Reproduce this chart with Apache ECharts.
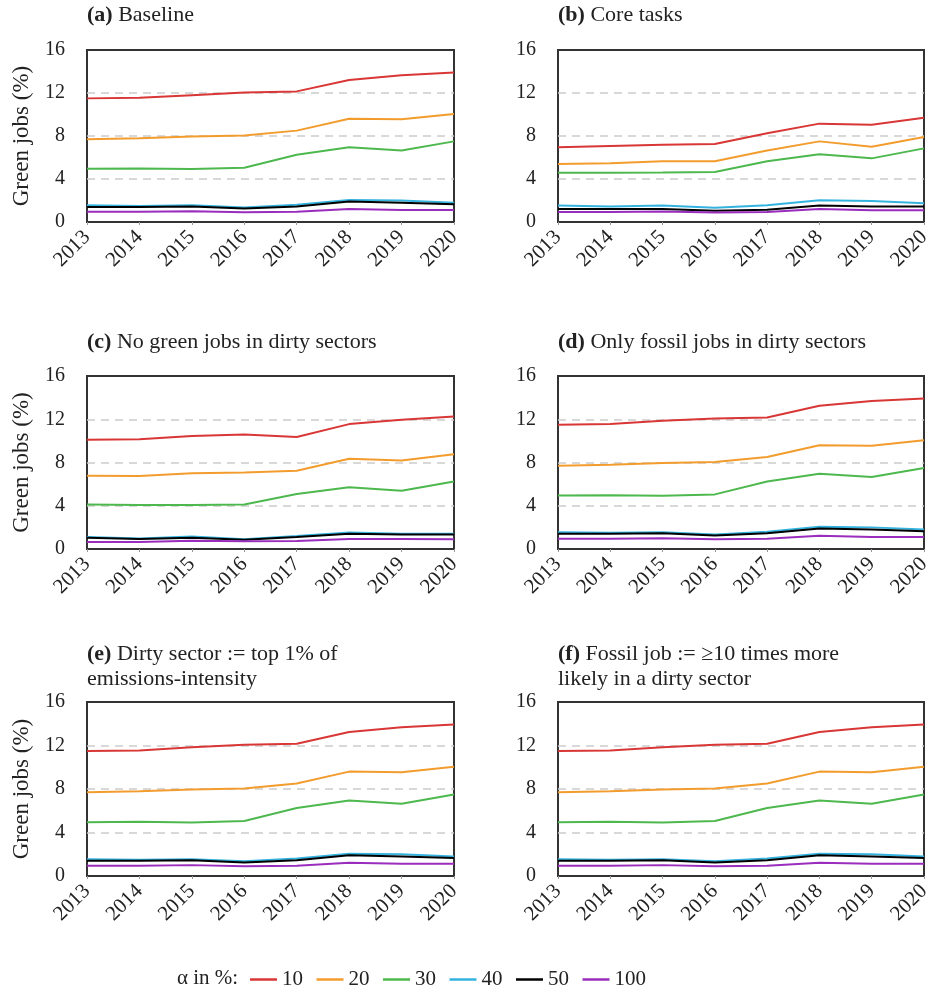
<!DOCTYPE html>
<html>
<head>
<meta charset="utf-8">
<script src="https://cdn.jsdelivr.net/npm/echarts@6/dist/echarts.min.js"></script>
<style>
html,body{margin:0;padding:0;background:#fff;}
#chart{width:935px;height:996px;}
</style>
</head>
<body>
<div id="chart"></div>
<script>
const years = ['2013','2014','2015','2016','2017','2018','2019','2020'];
const alphaNames = ['10','20','30','40','50','100'];
const yTicks = [0, 4, 8, 12, 16];

// Each panel: one list per alpha (10, 20, 30, 40, 50, 100), values in %
const panelA = [
  [11.5, 11.55, 11.8, 12.05, 12.15, 13.2, 13.65, 13.9],
  [7.7, 7.8, 7.95, 8.05, 8.5, 9.6, 9.55, 10.05],
  [4.95, 4.98, 4.93, 5.05, 6.25, 6.95, 6.65, 7.5],
  [1.55, 1.5, 1.55, 1.35, 1.6, 2.05, 2.0, 1.8],
  [1.4, 1.4, 1.45, 1.25, 1.45, 1.9, 1.8, 1.65],
  [0.95, 0.95, 1.0, 0.9, 0.95, 1.22, 1.12, 1.12]
];
const panelB = [
  [6.95, 7.08, 7.18, 7.25, 8.25, 9.15, 9.05, 9.7],
  [5.4, 5.47, 5.65, 5.65, 6.65, 7.5, 7.0, 7.9],
  [4.57, 4.58, 4.6, 4.66, 5.65, 6.3, 5.92, 6.85],
  [1.53, 1.45, 1.53, 1.32, 1.56, 2.02, 1.96, 1.75],
  [1.2, 1.2, 1.2, 1.05, 1.13, 1.53, 1.44, 1.44],
  [0.92, 0.92, 0.98, 0.89, 0.92, 1.2, 1.1, 1.1]
];
const panelC = [
  [10.1, 10.15, 10.45, 10.58, 10.35, 11.55, 11.95, 12.25],
  [6.77, 6.75, 7.0, 7.08, 7.23, 8.34, 8.18, 8.77],
  [4.12, 4.07, 4.07, 4.12, 5.08, 5.72, 5.38, 6.25],
  [1.1, 0.97, 1.15, 0.9, 1.2, 1.52, 1.4, 1.4],
  [1.05, 0.92, 1.05, 0.86, 1.1, 1.42, 1.35, 1.35],
  [0.65, 0.65, 0.77, 0.71, 0.74, 0.92, 0.92, 0.9]
];
const panelD = [
  [11.5, 11.55, 11.85, 12.08, 12.17, 13.25, 13.68, 13.93],
  [7.7, 7.8, 7.95, 8.05, 8.5, 9.6, 9.55, 10.05],
  [4.95, 4.98, 4.93, 5.05, 6.25, 6.95, 6.65, 7.5],
  [1.55, 1.5, 1.55, 1.35, 1.6, 2.05, 2.0, 1.8],
  [1.4, 1.4, 1.45, 1.25, 1.45, 1.9, 1.8, 1.65],
  [0.95, 0.95, 1.0, 0.9, 0.95, 1.22, 1.12, 1.12]
];
const panelE = [
  [11.5, 11.55, 11.85, 12.08, 12.17, 13.25, 13.68, 13.93],
  [7.7, 7.8, 7.95, 8.05, 8.5, 9.6, 9.55, 10.05],
  [4.95, 4.98, 4.93, 5.05, 6.25, 6.95, 6.65, 7.5],
  [1.55, 1.5, 1.55, 1.35, 1.6, 2.05, 2.0, 1.8],
  [1.4, 1.4, 1.45, 1.25, 1.45, 1.9, 1.8, 1.65],
  [0.95, 0.95, 1.0, 0.9, 0.95, 1.22, 1.12, 1.12]
];
const panelF = [
  [11.5, 11.55, 11.85, 12.08, 12.17, 13.25, 13.68, 13.93],
  [7.7, 7.8, 7.95, 8.05, 8.5, 9.6, 9.55, 10.05],
  [4.95, 4.98, 4.93, 5.05, 6.25, 6.95, 6.65, 7.5],
  [1.55, 1.5, 1.55, 1.35, 1.6, 2.05, 2.0, 1.8],
  [1.4, 1.4, 1.45, 1.25, 1.45, 1.9, 1.8, 1.65],
  [0.95, 0.95, 1.0, 0.9, 0.95, 1.22, 1.12, 1.12]
];
const panelTitles = [
  ['(a)', 'Baseline'],
  ['(b)', 'Core tasks'],
  ['(c)', 'No green jobs in dirty sectors'],
  ['(d)', 'Only fossil jobs in dirty sectors'],
  ['(e)', 'Dirty sector := top 1% of\nemissions-intensity'],
  ['(f)', 'Fossil job := \u226510 times more\nlikely in a dirty sector']
];
const panels = [panelA, panelB, panelC, panelD, panelE, panelF];

const colors = ['#d93636', '#f39c2e', '#4db84d', '#35b3df', '#000000', '#9a2dbd'];
const FONT = '"Liberation Serif", "DejaVu Serif", serif';

const lefts = [87, 558];
const tops = [50, 376, 702];
const heights = [172, 173, 174];
const titleTops = [3, 330, 642];

const chart = echarts.init(document.getElementById('chart'), null, {renderer: 'canvas'});

const grid = [], xAxis = [], yAxis = [], series = [], title = [];
panels.forEach((p, i) => {
  const col = i % 2, row = Math.floor(i / 2);
  const left = lefts[col];
  grid.push({
    left: left, top: tops[row], width: col === 0 ? 367 : 366, height: heights[row],
    show: true, borderColor: '#333', borderWidth: 2, backgroundColor: 'transparent', containLabel: false
  });
  const t = panelTitles[i];
  const lines = t[1].split('\n');
  let text = '{b|' + t[0] + '} {n|' + lines[0] + '}';
  for (let k = 1; k < lines.length; k++) text += '\n{n|' + lines[k] + '}';
  title.push({
    text: text, left: left, top: titleTops[row], padding: 0,
    textStyle: {
      fontWeight: 'normal', fontFamily: FONT, fontSize: 22, color: '#222',
      rich: {
        b: {fontFamily: FONT, fontSize: 22, fontWeight: 'bold', color: '#222', lineHeight: 25},
        n: {fontFamily: FONT, fontSize: 22, fontWeight: 'normal', color: '#222', lineHeight: 25}
      }
    }
  });
  xAxis.push({
    type: 'category', gridIndex: i, data: years, boundaryGap: false,
    axisLine: {show: false},
    axisTick: {show: true, length: 3, lineStyle: {color: '#999'}, alignWithLabel: true},
    axisLabel: {rotate: 45, margin: 12, fontFamily: FONT, fontSize: 21, color: '#222', interval: 0},
    splitLine: {show: false}
  });
  yAxis.push({
    type: 'value', gridIndex: i, min: yTicks[0], max: yTicks[yTicks.length - 1], interval: 4,
    axisLine: {show: false}, axisTick: {show: false},
    axisLabel: {margin: 22, fontFamily: FONT, fontSize: 20, color: '#222'},
    splitLine: {show: true, lineStyle: {type: [8, 6], width: 1.5,
      color: ['rgba(0,0,0,0)', '#cccccc', '#cccccc', '#cccccc', 'rgba(0,0,0,0)']}},
    name: col === 0 ? 'Green jobs (%)' : '', nameLocation: 'middle', nameGap: 54, nameRotate: 90,
    nameTextStyle: {fontFamily: FONT, fontSize: 23, color: '#222'}
  });
  p.forEach((vals, s) => {
    series.push({
      type: 'line', name: alphaNames[s], xAxisIndex: i, yAxisIndex: i, data: vals,
      showSymbol: false, symbol: 'none', lineStyle: {width: 2, color: colors[s]}, itemStyle: {color: colors[s]},
      animation: false, z: 3
    });
  });
});

chart.setOption({
  animation: false,
  title: title,
  grid: grid, xAxis: xAxis, yAxis: yAxis, series: series,
  legend: {
    data: alphaNames, left: 245, top: 964, icon: 'rect', itemWidth: 27, itemHeight: 2.5, itemGap: 13.5,
    textStyle: {fontFamily: FONT, fontSize: 21, color: '#222'},
    selectedMode: false
  },
  graphic: [{
    type: 'text', left: 177, top: 968,
    style: {text: '\u03b1 in %:', font: '21px ' + FONT, fill: '#222'}
  }]
});
</script>
</body>
</html>
